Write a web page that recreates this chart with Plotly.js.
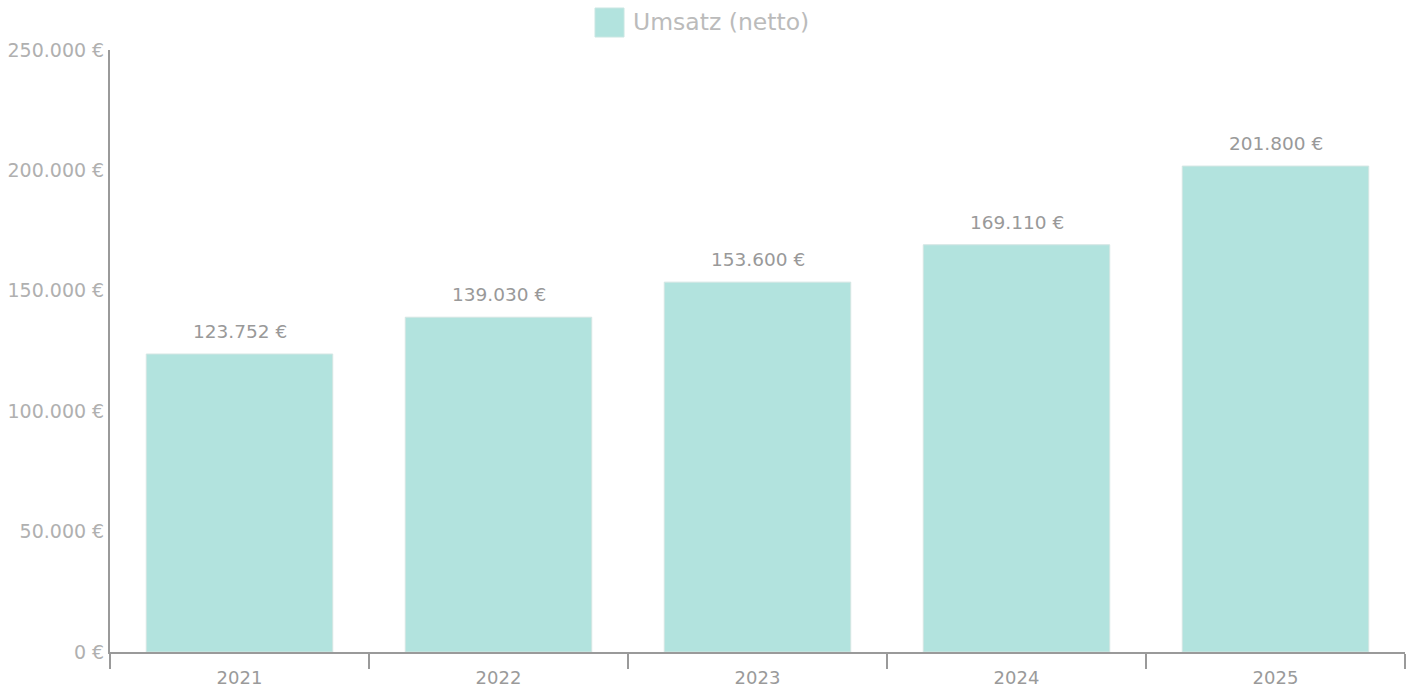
<!DOCTYPE html>
<html>
<head>
<meta charset="utf-8">
<script src="https://cdn.plot.ly/plotly-3.0.1.min.js"></script>
<style>html,body{margin:0;padding:0;background:#fff;}#chart{width:1412px;height:688px;}</style>
</head>
<body>
<div id="chart"></div>
<script>
const years = ['2021', '2022', '2023', '2024', '2025'];
const revenue = [123752, 139030, 153600, 169110, 201800];
const seriesName = 'Umsatz (netto)';
const yTicks = [0, 50000, 100000, 150000, 200000, 250000];

const barColor = '#b2e3de';
const font = 'DejaVu Sans, Verdana, sans-serif';

const trace = {
  type: 'bar',
  x: years,
  y: revenue,
  name: seriesName,
  width: 0.72,
  marker: {color: barColor, line: {color: '#d4e6e3', width: 1}},
  hoverinfo: 'x+y',
  showlegend: false
};

const labelAnnotations = years.map((yr, i) => ({
  x: i, y: revenue[i], xref: 'x', yref: 'y',
  text: revenue[i].toLocaleString('de-DE') + ' €',
  showarrow: false, yanchor: 'bottom', yshift: 10,
  font: {family: font, size: 18.5, color: '#999999'}
}));

const layout = {
  width: 1412, height: 688,
  margin: {l: 110, r: 7, t: 50, b: 36},
  paper_bgcolor: '#ffffff', plot_bgcolor: '#ffffff',
  separators: ',.',
  showlegend: false,
  xaxis: {
    type: 'category',
    categoryorder: 'array', categoryarray: years,
    range: [-0.5, years.length - 0.5], autorange: false,
    showline: true, linecolor: '#9a9a9a', linewidth: 2,
    ticks: 'outside', tickson: 'boundaries', ticklen: 15, tickwidth: 2, tickcolor: '#9a9a9a',
    tickfont: {family: font, size: 18, color: '#9a9a9a'},
    ticklabelstandoff: 8,
    tickangle: 0,
    showgrid: false, zeroline: false, fixedrange: true
  },
  yaxis: {
    range: [0, 250000], autorange: false,
    tickvals: yTicks,
    ticktext: yTicks.map(v => v.toLocaleString('de-DE') + ' €'),
    showline: true, linecolor: '#9a9a9a', linewidth: 2,
    ticks: '', ticklen: 0,
    tickfont: {family: font, size: 19, color: '#b0b0b0'},
    showgrid: false, zeroline: false, fixedrange: true
  },
  shapes: [{
    type: 'rect', xref: 'paper', yref: 'paper',
    x0: (595 - 110) / 1295, x1: (624 - 110) / 1295,
    y0: (652 - 37) / 602, y1: (652 - 8) / 602,
    fillcolor: barColor, line: {color: '#c9e6e2', width: 1}
  }],
  annotations: labelAnnotations.concat([{
    xref: 'paper', yref: 'paper',
    x: (631 - 110) / 1295, y: (652 - 22) / 602,
    xanchor: 'left', yanchor: 'middle', showarrow: false,
    text: seriesName,
    font: {family: font, size: 23.5, color: '#bbbbbb'}
  }])
};

Plotly.newPlot('chart', [trace], layout, {displayModeBar: false});
</script>
</body>
</html>
